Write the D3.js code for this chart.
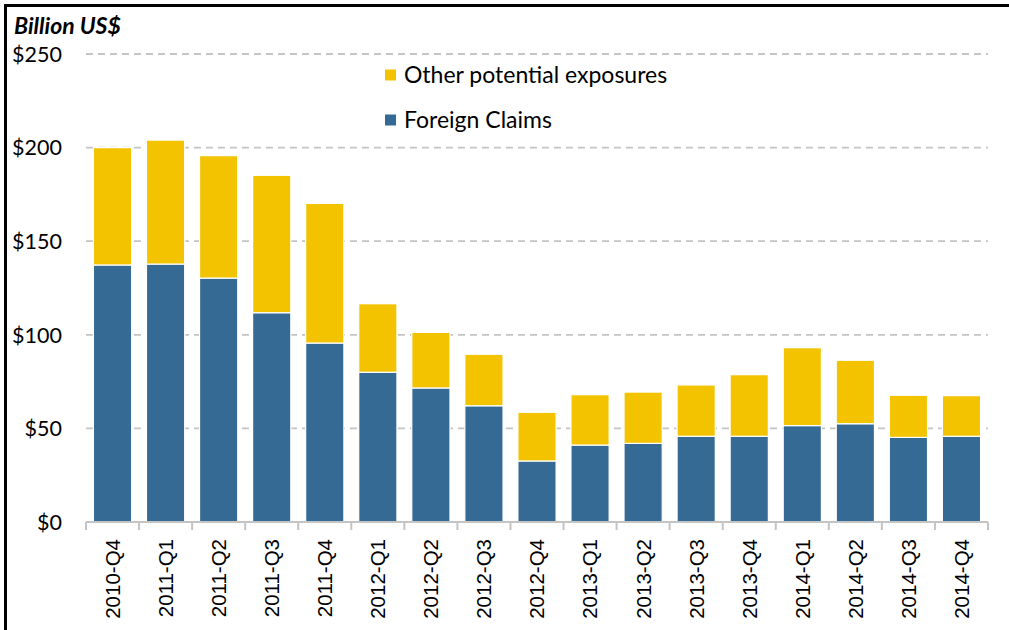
<!DOCTYPE html>
<html>
<head>
    <meta charset="utf-8">
    <script src="https://d3js.org/d3.v7.min.js"></script>
    <style>
        body { margin: 0; background: #fff; }
    </style>
</head>
<body>
    <div id="chart"></div>
    <script>
        // data
        const quarters = ["2010-Q4", "2011-Q1", "2011-Q2", "2011-Q3", "2011-Q4",
            "2012-Q1", "2012-Q2", "2012-Q3", "2012-Q4",
            "2013-Q1", "2013-Q2", "2013-Q3", "2013-Q4",
            "2014-Q1", "2014-Q2", "2014-Q3", "2014-Q4"];
        const foreignClaims = [137.3, 137.8, 130.3, 111.8, 95.6, 80.0, 71.6, 62.1, 32.6,
            41.1, 42.0, 45.8, 45.8, 51.5, 52.5, 45.2, 45.8];
        const otherExposures = [62.7, 66.2, 65.4, 73.4, 74.6, 36.6, 29.7, 27.5, 26.0,
            26.9, 27.4, 27.4, 32.9, 41.6, 33.9, 22.5, 21.7];
        const yTicks = [0, 50, 100, 150, 200, 250];
        const seriesNames = ["Foreign Claims", "Other potential exposures"];
        const colors = ["#346A93", "#F3C300"];

        const W = 1009, H = 630;
        const svg = d3.select("#chart").append("svg")
            .attr("width", W).attr("height", H);

        // outer frame
        svg.append("rect")
            .attr("x", 5.5).attr("y", 5.5)
            .attr("width", W + 10).attr("height", H + 10)
            .attr("fill", "none").attr("stroke", "#000").attr("stroke-width", 3);

        const x = d3.scaleBand()
            .domain(quarters)
            .range([86, 988])
            .paddingInner(0.28)
            .paddingOuter(0.14);

        const y = d3.scaleLinear()
            .domain([0, 250])
            .range([522, 54]);

        // dashed grid
        svg.append("g")
            .selectAll("line")
            .data(yTicks.filter(d => d > 0))
            .enter().append("line")
            .attr("x1", x.range()[0]).attr("x2", x.range()[1])
            .attr("y1", d => y(d)).attr("y2", d => y(d))
            .attr("stroke", "#C4C4C4")
            .attr("stroke-width", 1.8)
            .attr("stroke-dasharray", "7,5");

        // y labels
        svg.append("g")
            .selectAll("text")
            .data(yTicks)
            .enter().append("text")
            .attr("x", 62)
            .attr("y", d => y(d))
            .attr("dy", "0.36em")
            .attr("text-anchor", "end")
            .style("font-family", "Lato, 'Open Sans', sans-serif")
            .style("font-size", "21.5px")
            .attr("fill", "#000")
            .text(d => "$" + d);

        // stacked bars
        const table = quarters.map((q, i) => ({
            quarter: q,
            "Foreign Claims": foreignClaims[i],
            "Other potential exposures": otherExposures[i]
        }));
        const stacked = d3.stack().keys(seriesNames)(table);

        svg.append("g")
            .selectAll("g")
            .data(stacked)
            .enter().append("g")
            .attr("fill", (d, i) => colors[i])
            .selectAll("rect")
            .data(d => d)
            .enter().append("rect")
            .attr("x", d => x(d.data.quarter))
            .attr("y", d => y(d[1]))
            .attr("width", x.bandwidth())
            .attr("height", d => y(d[0]) - y(d[1]))
            .attr("stroke", "#fff")
            .attr("stroke-width", 1.2);

        // x axis line + boundary ticks
        const axisY = y(0);
        const step = x.step();
        const axis = svg.append("g");
        axis.append("line")
            .attr("x1", x.range()[0]).attr("x2", x.range()[1])
            .attr("y1", axisY).attr("y2", axisY)
            .attr("stroke", "#C4C4C4").attr("stroke-width", 2);
        axis.selectAll(".tick")
            .data(d3.range(quarters.length + 1))
            .enter().append("line")
            .attr("x1", i => x.range()[0] + i * step)
            .attr("x2", i => x.range()[0] + i * step)
            .attr("y1", axisY).attr("y2", axisY + 8)
            .attr("stroke", "#C4C4C4").attr("stroke-width", 2);

        axis.selectAll("text")
            .data(quarters)
            .enter().append("text")
            .attr("transform", d => `translate(${x(d) + x.bandwidth() / 2},${axisY + 17}) rotate(-90)`)
            .attr("dy", "0.36em")
            .attr("text-anchor", "end")
            .style("font-family", "'Liberation Sans', Arial, sans-serif")
            .style("font-size", "20.5px")
            .attr("fill", "#000")
            .text(d => d);

        // unit title
        svg.append("text")
            .attr("x", 14).attr("y", 34)
            .style("font-family", "Lato, 'Open Sans', sans-serif")
            .style("font-size", "23px")
            .style("font-weight", "bold")
            .style("font-style", "italic")
            .text("Billion US$");

        // legend (yellow on top)
        const legendItems = [
            { name: "Other potential exposures", color: colors[1], cy: 75 },
            { name: "Foreign Claims", color: colors[0], cy: 120 }
        ];
        const legend = svg.append("g");
        legend.selectAll("rect")
            .data(legendItems)
            .enter().append("rect")
            .attr("x", 385).attr("y", d => d.cy - 5.5)
            .attr("width", 11).attr("height", 11)
            .attr("fill", d => d.color);
        legend.selectAll("text")
            .data(legendItems)
            .enter().append("text")
            .attr("x", 404).attr("y", d => d.cy)
            .attr("dy", "0.36em")
            .style("font-family", "Lato, 'Open Sans', sans-serif")
            .style("font-size", "23px")
            .text(d => d.name);
    </script>
</body>
</html>
